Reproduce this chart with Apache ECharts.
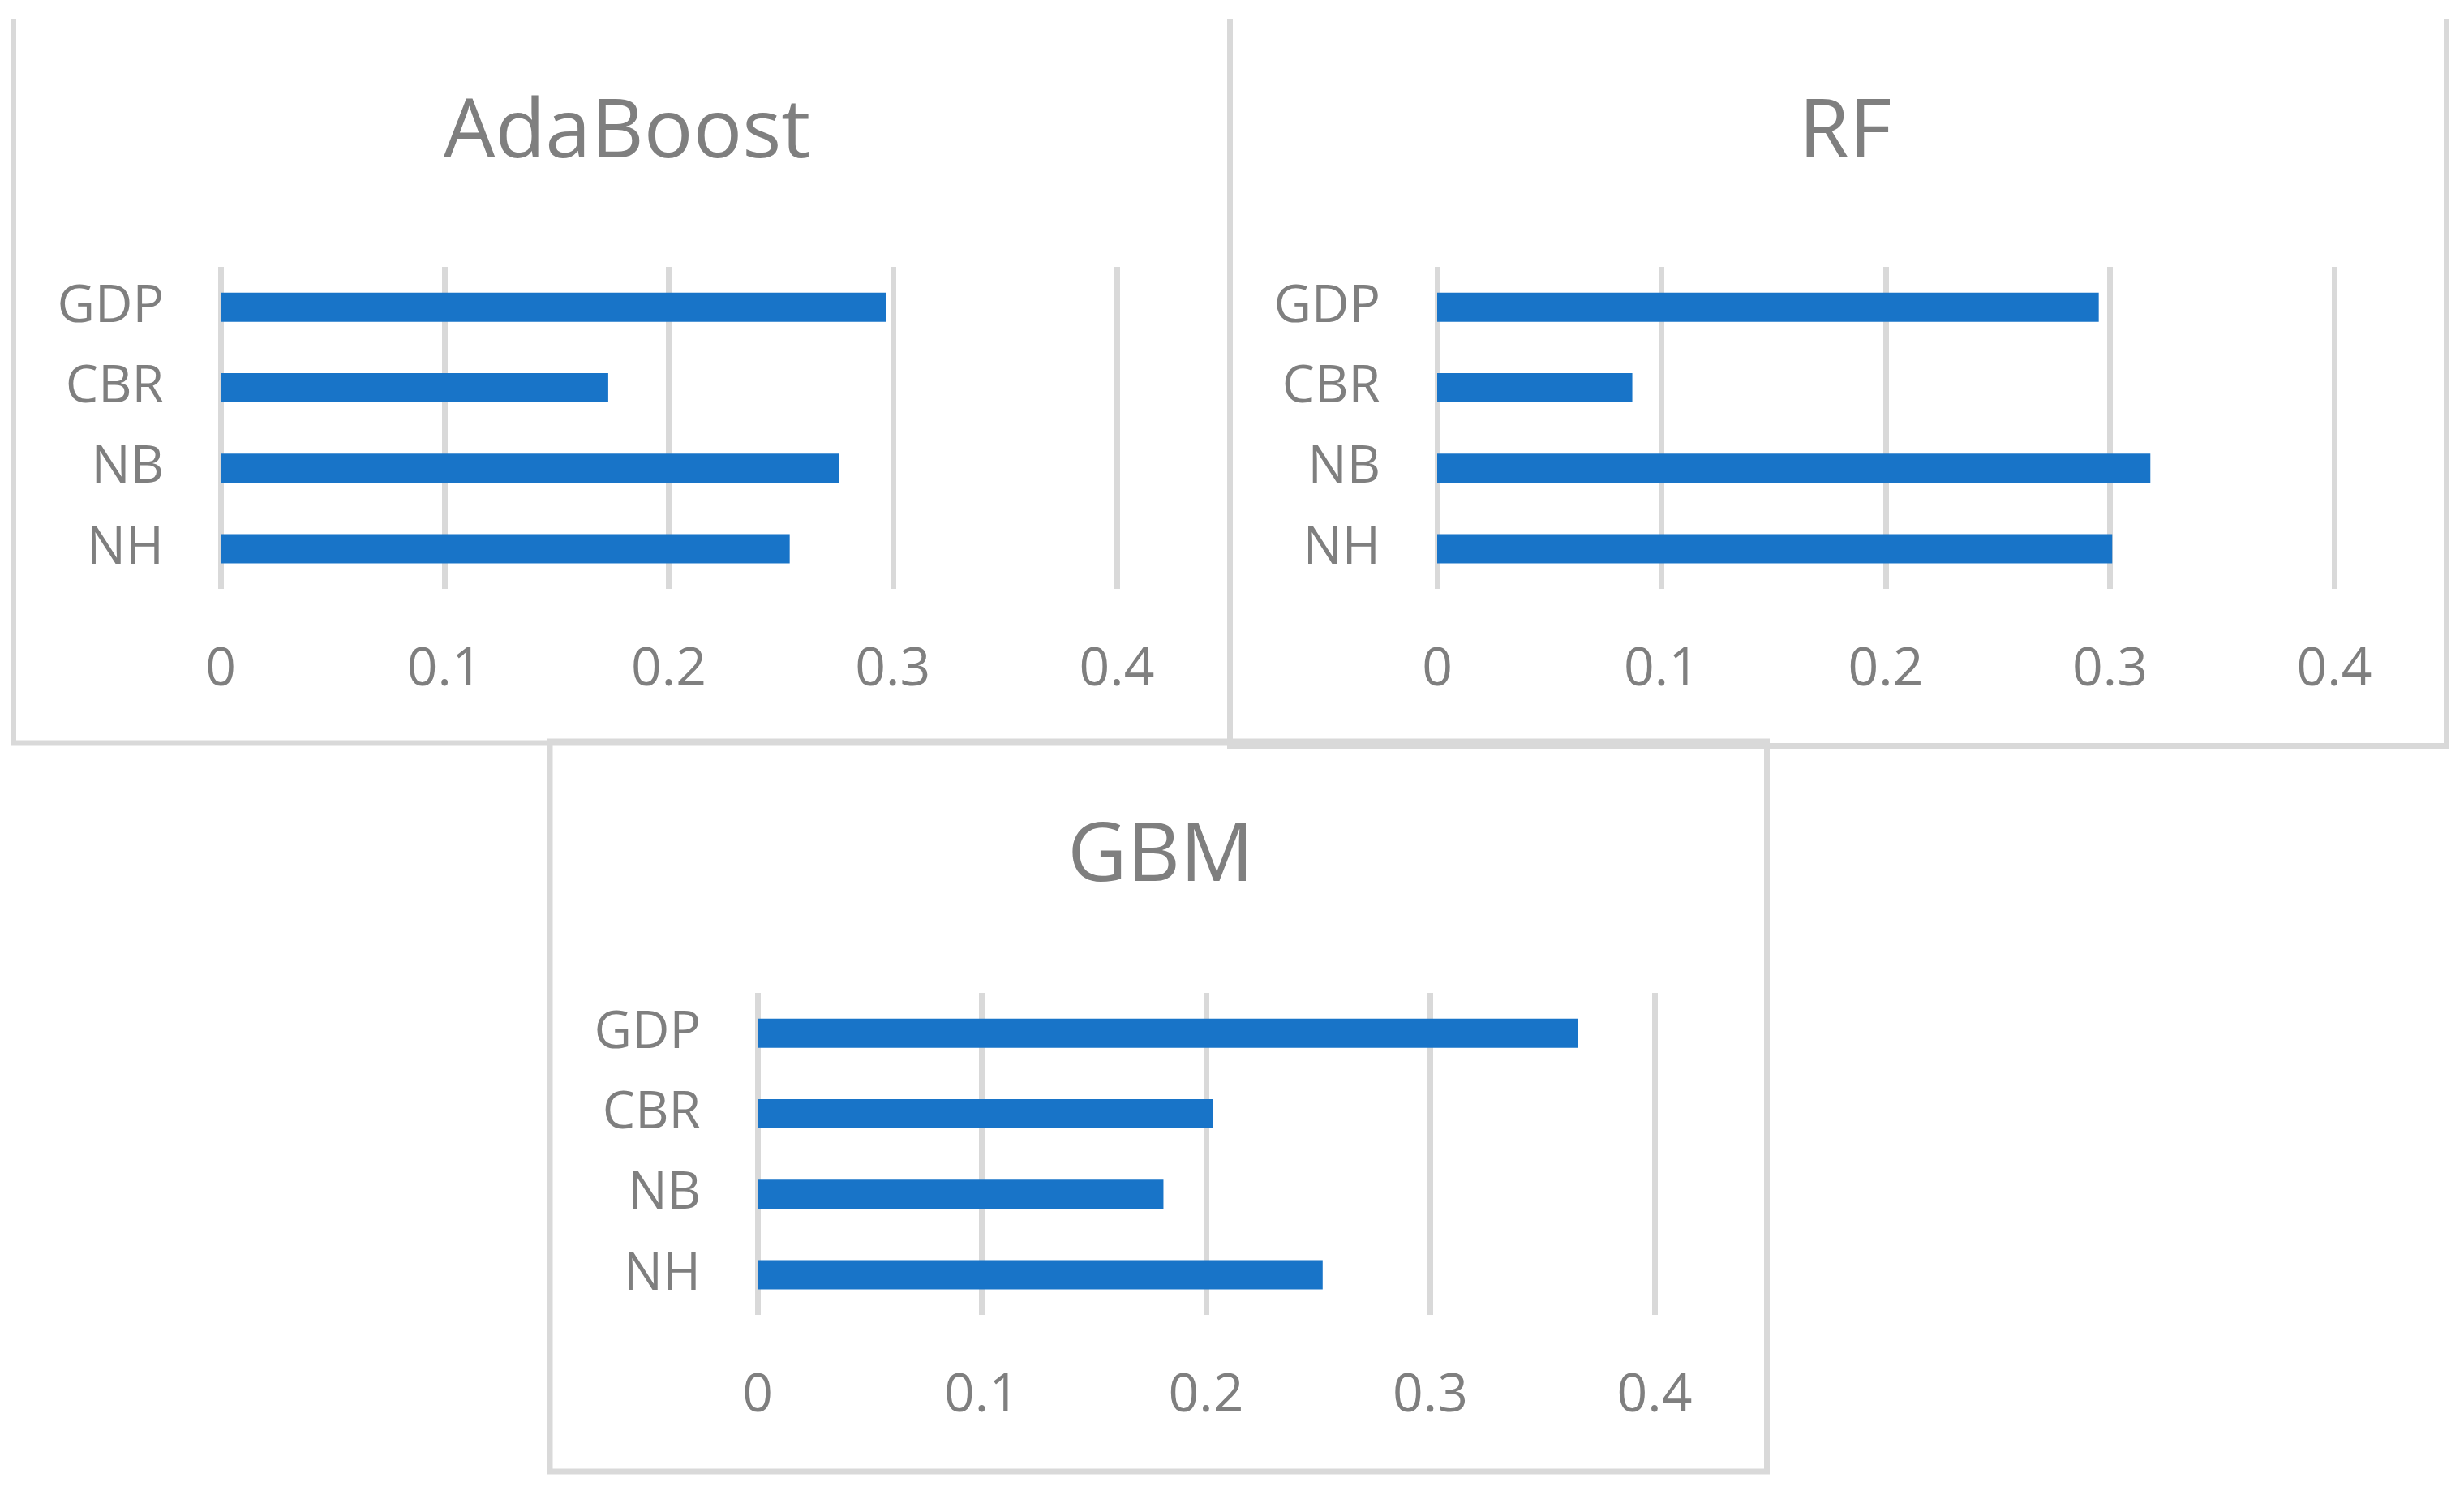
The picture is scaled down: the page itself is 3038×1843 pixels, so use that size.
<!DOCTYPE html>
<html>
<head>
<meta charset="utf-8">
<script src="https://cdn.jsdelivr.net/npm/echarts@6/dist/echarts.min.js"></script>
<style>
html,body{margin:0;padding:0;background:#fff;}
#c{width:3038px;height:1843px;}
</style>
</head>
<body>
<div id="c"></div>
<script>
const categories = ['GDP', 'CBR', 'NB', 'NH'];
const panelTitles = ['AdaBoost', 'RF', 'GBM'];
const adaboostValues = [0.297, 0.173, 0.276, 0.254];
const rfValues = [0.295, 0.087, 0.318, 0.301];
const gbmValues = [0.366, 0.203, 0.181, 0.252];
const xMin = 0, xMax = 0.4, xStep = 0.1;

const FONT = '"Open Sans", "Noto Sans", sans-serif';
const TXT = '#7f7f7f';
const LINE = '#d9d9d9';
const BAR = '#1874c8';

const grids = [
  {left: 272, top: 329, width: 1105, height: 397},
  {left: 1772, top: 329, width: 1106, height: 397},
  {left: 934, top: 1224, width: 1106, height: 397}
];
const titlePos = [
  {cx: 768, top: 110},
  {cx: 2270, top: 110},
  {cx: 1426, top: 1002}
];
const seriesData = [adaboostValues, rfValues, gbmValues];

const option = {
  backgroundColor: '#ffffff',
  animation: false,
  title: panelTitles.map((t, i) => ({
    text: t,
    left: titlePos[i].cx,
    top: titlePos[i].top,
    textAlign: 'center',
    textStyle: {fontFamily: FONT, fontSize: 101, fontWeight: 'normal', color: TXT}
  })),
  grid: grids,
  xAxis: grids.map((g, i) => ({
    type: 'value', gridIndex: i, min: xMin, max: xMax, interval: xStep,
    axisLine: {show: false}, axisTick: {show: false},
    splitLine: {show: true, lineStyle: {color: LINE, width: 7}},
    axisLabel: {fontFamily: FONT, fontSize: 66, color: TXT, margin: 67}
  })),
  yAxis: grids.map((g, i) => ({
    type: 'category', gridIndex: i, data: categories, inverse: true,
    axisLine: {show: false}, axisTick: {show: false}, splitLine: {show: false},
    axisLabel: {fontFamily: FONT, fontSize: 64, color: TXT, margin: 70}
  })),
  series: seriesData.map((d, i) => ({
    type: 'bar', xAxisIndex: i, yAxisIndex: i, data: d, barWidth: 36,
    itemStyle: {color: BAR}
  })),
  graphic: [
    {type: 'polyline', silent: true, shape: {points: [[16.5, 24], [16.5, 916], [1516.5, 916], [1516.5, 24]]},
      style: {stroke: LINE, lineWidth: 7, fill: null}},
    {type: 'polyline', silent: true, shape: {points: [[1516.5, 24], [1516.5, 919.5], [3016.5, 919.5], [3016.5, 24]]},
      style: {stroke: LINE, lineWidth: 7, fill: null}},
    {type: 'rect', silent: true, shape: {x: 678, y: 914, width: 1500.5, height: 900},
      style: {stroke: LINE, lineWidth: 7, fill: null}}
  ]
};

const chart = echarts.init(document.getElementById('c'), null, {renderer: 'canvas', width: 3038, height: 1843});
chart.setOption(option);
</script>
</body>
</html>
